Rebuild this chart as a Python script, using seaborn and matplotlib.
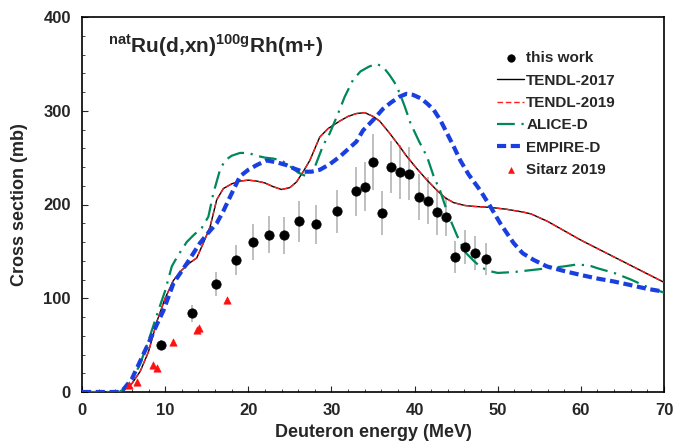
import numpy as np
import pandas as pd
import seaborn as sb
import matplotlib.pyplot as plt
from matplotlib.ticker import MultipleLocator

# this work
e_exp = [9.5, 13.2, 16.1, 18.5, 20.6, 22.5, 24.3, 26.1, 28.2, 30.7, 33.0, 34.0, 35.0,
         36.1, 37.2, 38.2, 39.3, 40.5, 41.6, 42.7, 43.8, 44.9, 46.1, 47.3, 48.6]
xs_exp = [50, 84, 115, 141, 160, 168, 167, 182, 179, 193, 214, 219, 245,
          191, 240, 235, 233, 208, 204, 192, 187, 144, 155, 148, 142]
err_exp = [5, 9, 13, 16, 19, 20, 20, 22, 21, 23, 26, 26, 30,
           23, 28, 29, 28, 25, 25, 25, 21, 17, 18, 18, 17]

# Sitarz 2019
e_sitarz = [5.7, 6.65, 8.5, 9.0, 10.9, 13.8, 14.1, 17.4]
xs_sitarz = [7, 11, 29, 26, 53, 66, 68, 98]

# TENDL (2017 and 2019 coincide)
e_tendl = [0, 4.5, 5, 6, 7, 8, 9, 10, 11, 12, 13, 13.8, 14.6, 15.4, 16.2, 17, 18, 19, 20, 21,
           22, 23, 24, 25, 25.8, 26.6, 27.4, 28.6, 29.6, 31, 32, 33, 34, 35, 35.8, 37, 38.2,
           39, 40.3, 41.5, 42.7, 43.7, 44.7, 46, 47.1, 49, 51, 53, 54, 55, 56, 58, 60, 62,
           64, 66, 68, 70]
xs_tendl17 = [0, 0, 2, 9, 22, 43, 75, 100, 119, 130, 138, 143, 159, 176, 205, 217, 222, 225,
              226, 225, 223, 219, 216, 218, 224, 235, 247, 272, 281, 289, 294, 297, 298, 294,
              289, 276, 262, 252, 238, 226, 215, 207, 202, 199, 198, 197, 195, 192, 190, 186,
              182, 172, 162, 153, 144, 135, 126, 117]
xs_tendl19 = list(xs_tendl17)

# ALICE-D
e_alice = [0, 4.5, 5, 6, 7, 8, 9, 10, 10.8, 11.5, 12.6, 13.5, 14.4, 15.2, 15.8, 16.6, 17.2,
           18, 19, 20, 21, 22, 23, 24, 25, 26, 27, 28, 29, 29.8, 30.8, 31.6, 32.6, 33.5,
           34.5, 35.4, 36.2, 37, 37.6, 38.2, 38.8, 39.5, 40.5, 41.5, 42.3, 43.1, 44, 45.1,
           46, 47.1, 48, 49, 50, 52, 54, 56, 58, 59.5, 61, 62, 64, 66, 68, 70]
xs_alice = [0, 0, 3, 12, 30, 55, 82, 108, 134, 145, 160, 168, 175, 187, 212, 237, 247,
            252, 255, 255, 252, 250, 249, 247, 241, 234, 230, 240, 263, 276, 297, 315, 333,
            342, 347, 350, 347, 338, 330, 319, 305, 287, 268, 251, 230, 214, 190, 167,
            150, 140, 133, 129, 127, 128, 130, 132, 134, 136, 135, 132, 127, 120, 112, 106]

# EMPIRE-D
e_empire = [0, 4.5, 5, 6, 7, 8, 9, 9.8, 11, 12.6, 14.2, 15.2, 16.2, 17, 17.8, 19, 20, 21,
            22.2, 23.4, 24.6, 25.6, 26.6, 27.6, 28.6, 29.8, 31, 32, 33, 33.8, 35, 36.2,
            37.2, 38.2, 39.0, 39.8, 40.8, 41.6, 42.3, 43.1, 43.9, 44.7, 45.5, 46.5, 47.9,
            49.1, 50.3, 51.9, 53, 54.3, 55.9, 58, 59.9, 62, 63.9, 66, 68, 70]
xs_empire = [0, 0, 3, 14, 33, 52, 72, 87, 116, 137, 159, 170, 180, 193, 208, 230, 237, 242,
             247, 245, 242, 238, 235, 235, 237, 243, 251, 259, 267, 279, 290, 302, 309, 315,
             318, 317, 313, 307, 301, 290, 276, 262, 247, 232, 215, 198, 180, 159, 148,
             141, 134, 129, 125, 121, 118, 114, 110, 107]

x_ticks = [0, 10, 20, 30, 40, 50, 60, 70]
y_ticks = [0, 100, 200, 300, 400]

sb.set_style('ticks')
plt.rcParams['font.family'] = ['Liberation Sans', 'DejaVu Sans']
plt.rcParams['font.weight'] = 'bold'
plt.rcParams['mathtext.fontset'] = 'custom'
plt.rcParams['mathtext.rm'] = 'Liberation Sans:bold'
plt.rcParams['mathtext.bf'] = 'Liberation Sans:bold'

fig = plt.figure(figsize=(6.73, 4.41), dpi=100)
ax = fig.add_axes([82 / 673, 1 - 392 / 441, 582 / 673, 375 / 441])

exp = pd.DataFrame({'E': e_exp, 'xs': xs_exp})
sit = pd.DataFrame({'E': e_sitarz, 'xs': xs_sitarz})

ax.errorbar(e_exp, xs_exp, yerr=err_exp, fmt='none', ecolor='#b4b4b4', elinewidth=1.2, zorder=2)
sb.scatterplot(data=exp, x='E', y='xs', ax=ax, color='black', s=45, edgecolor='black',
               label='this work', zorder=5)
sb.lineplot(x=e_tendl, y=xs_tendl17, ax=ax, color='black', lw=1.0, label='TENDL-2017',
            sort=False, estimator=None, zorder=3)
sb.lineplot(x=e_tendl, y=xs_tendl19, ax=ax, color='#ff2020', lw=1.0, label='TENDL-2019',
            linestyle=(0, (4, 2)), sort=False, estimator=None, zorder=3)
sb.lineplot(x=e_alice, y=xs_alice, ax=ax, color='#00875a', lw=1.6, label='ALICE-D',
            linestyle=(0, (8, 3, 1, 3)), sort=False, estimator=None, zorder=3)
sb.lineplot(x=e_empire, y=xs_empire, ax=ax, color='#1a3fe0', lw=3.0, label='EMPIRE-D',
            linestyle=(0, (2.2, 1.1)), sort=False, estimator=None, zorder=4)
sb.scatterplot(data=sit, x='E', y='xs', ax=ax, color='#ff1010', marker='^', s=28,
               edgecolor='#ff1010', label='Sitarz 2019', zorder=5)

ax.set_xlim(0, 70)
ax.set_ylim(0, 400)
ax.set_xticks(x_ticks)
ax.set_xticklabels([str(t) for t in x_ticks], fontweight='bold', fontsize=12)
ax.set_yticks(y_ticks)
ax.set_yticklabels([str(t) for t in y_ticks], fontweight='bold', fontsize=12)
ax.xaxis.set_minor_locator(MultipleLocator(2))
ax.yaxis.set_minor_locator(MultipleLocator(20))
ax.tick_params(which='both', direction='in')
ax.tick_params(which='major', length=4, pad=8)
ax.tick_params(which='minor', length=2.5)
for sp in ax.spines.values():
    sp.set_linewidth(1.2)
    sp.set_color('black')

ax.set_xlabel('Deuteron energy (MeV)', fontsize=13, fontweight='bold', labelpad=4)
ax.set_ylabel('Cross section (mb)', fontsize=13, fontweight='bold', labelpad=11)

ax.text(0.045, 0.904, r'$^{\rm nat}$Ru(d,xn)$^{\rm 100g}$Rh(m+)', transform=ax.transAxes,
        fontsize=15, fontweight='bold', va='baseline')

leg = ax.legend(loc='upper left', bbox_to_anchor=(0.703, 0.925), frameon=False,
                prop={'weight': 'bold', 'size': 11}, handlelength=1.75, labelspacing=0.55,
                handletextpad=0.15, borderaxespad=0, markerscale=0.8)

fig.savefig('out.png', dpi=100)
